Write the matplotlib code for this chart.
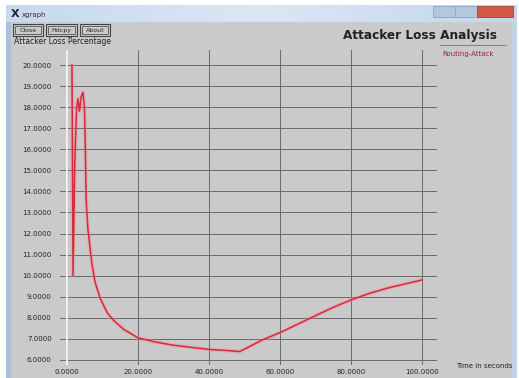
import matplotlib
matplotlib.use("Agg")
import matplotlib.pyplot as plt
from matplotlib.patches import Rectangle
from matplotlib.lines import Line2D
import numpy as np

# ---- data (time in thousands of seconds, loss percentage) ----
time_k = [1.4, 1.7, 2.2, 2.7, 3.1, 3.5, 4.0, 4.5, 4.9, 5.1, 5.4, 5.9, 7.0, 7.9,
          9.3, 11.3, 13.0, 16.0, 20.0, 25.0, 30.0, 35.0, 40.0, 45.0, 48.7,
          55.0, 60.0, 65.0, 70.0, 75.0, 80.0, 85.0, 90.0, 95.0, 100.0]
loss = [20.0, 10.0, 15.5, 17.9, 18.4, 17.8, 18.5, 18.7, 18.0, 16.7, 13.6, 12.2,
        10.6, 9.7, 8.95, 8.25, 7.9, 7.45, 7.05, 6.85, 6.7, 6.6, 6.5, 6.45, 6.4,
        6.95, 7.3, 7.7, 8.1, 8.5, 8.85, 9.15, 9.4, 9.6, 9.8]
x_ticks = [0, 20, 40, 60, 80, 100]
x_tick_labels = ["0.0000", "20.0000", "40.0000", "60.0000", "80.0000", "100.0000"]
y_ticks = list(range(6, 21))
y_tick_labels = ["%.4f" % v for v in y_ticks]
series_name = "Routing-Attack"

W, H = 519, 378
fig = plt.figure(figsize=(W / 100, H / 100), dpi=100)
fig.patch.set_facecolor("white")

# ---- window chrome (pixel coordinates) ----
bg = fig.add_axes([0, 0, 1, 1])
bg.set_xlim(0, W)
bg.set_ylim(H, 0)
bg.axis("off")
body = "#cacaca"
bg.add_patch(Rectangle((6, 5), 511, 373, facecolor="#b9cce2", edgecolor="none"))
# title bar gradient
grad = np.linspace(0, 1, 256).reshape(1, -1)
bg.imshow(grad, extent=(6, 517, 22, 5), cmap=matplotlib.colors.LinearSegmentedColormap.from_list(
    "tb", ["#c7d9ee", "#dbe7f4", "#c3d6ec"]), aspect="auto", zorder=1)
bg.add_patch(Rectangle((11, 22), 501, 356, facecolor=body, edgecolor="none", zorder=2))
bg.add_patch(Rectangle((6, 22), 5, 356, facecolor="#aac0dc", edgecolor="none", zorder=2))
bg.add_patch(Rectangle((512, 22), 5, 356, facecolor="#c4d4e8", edgecolor="none", zorder=2))
# title bar content
bg.text(11, 14, "X", fontsize=8, fontweight="bold", color="#222222", va="center", zorder=3)
bg.text(22, 14.5, "xgraph", fontsize=5, color="#333333", va="center", zorder=3)
bg.add_patch(Rectangle((433, 6), 22, 11, facecolor="#b5c6de", edgecolor="#8fa4c4", lw=0.6, zorder=3))
bg.add_patch(Rectangle((455, 6), 22, 11, facecolor="#b5c6de", edgecolor="#8fa4c4", lw=0.6, zorder=3))
bg.add_patch(Rectangle((477, 6), 36, 11, facecolor="#cf5a48", edgecolor="#a84030", lw=0.6, zorder=3))
# buttons
for bx, bw, lab in [(13, 30, "Close"), (46, 31, "Hdcpy"), (80, 30, "About")]:
    bg.add_patch(Rectangle((bx, 24), bw, 12, facecolor=body, edgecolor="#444444", lw=0.8, zorder=3))
    bg.add_patch(Rectangle((bx + 2, 26), bw - 4, 8, facecolor=body, edgecolor="#555555", lw=0.6, zorder=3))
    bg.text(bx + bw / 2, 30.5, lab, fontsize=4.5, color="#222222", ha="center", va="center", zorder=4)
bg.text(14, 42, "Attacker Loss Percentage", fontsize=5.5, color="#222222", va="center", zorder=3)
bg.text(420, 35, "Attacker Loss Analysis", fontsize=8.7, fontweight="bold",
        color="#222222", ha="center", va="center", zorder=3)
bg.text(484, 366, "Time in seconds", fontsize=5, color="#222222", ha="center", va="center", zorder=3)
# legend
bg.add_line(Line2D([440, 506], [45, 45], color="#e06070", lw=0.8, zorder=3))
bg.text(442, 54, series_name, fontsize=5, color="#a02030", va="center", zorder=3)

# ---- data axes ----
L, R, T, B = 60, 437, 50, 365
ax = fig.add_axes([L / W, 1 - B / H, (R - L) / W, (B - T) / H])
ax.set_facecolor("none")
px_per_k = 3.55
x0px = 67
ax.set_xlim(-(x0px - L) / px_per_k, (R - x0px) / px_per_k)
py_per_unit = 21.07
y20 = 65
ax.set_ylim(20 - (B - y20) / py_per_unit, 20 + (y20 - T) / py_per_unit)
for s in ax.spines.values():
    s.set_visible(False)
ax.set_xticks(x_ticks)
ax.set_xticklabels(x_tick_labels)
ax.set_yticks(y_ticks)
ax.set_yticklabels(y_tick_labels)
ax.tick_params(length=0, labelsize=5, colors="#222222")
ax.tick_params(axis="y", pad=6)
ax.tick_params(axis="x", pad=3)
ax.grid(True, color="#6a6a6a", lw=0.7)
ax.set_axisbelow(True)
# white zero line
ax.axvline(0, color="white", lw=1.2, zorder=1.5)

ax.plot(time_k, loss, color="#f08a96", lw=3.0, alpha=0.35, zorder=3, solid_joinstyle="round")
ax.plot(time_k, loss, color="#d8283a", lw=1.1, zorder=4, solid_joinstyle="round")

fig.savefig("out.png", dpi=100)
